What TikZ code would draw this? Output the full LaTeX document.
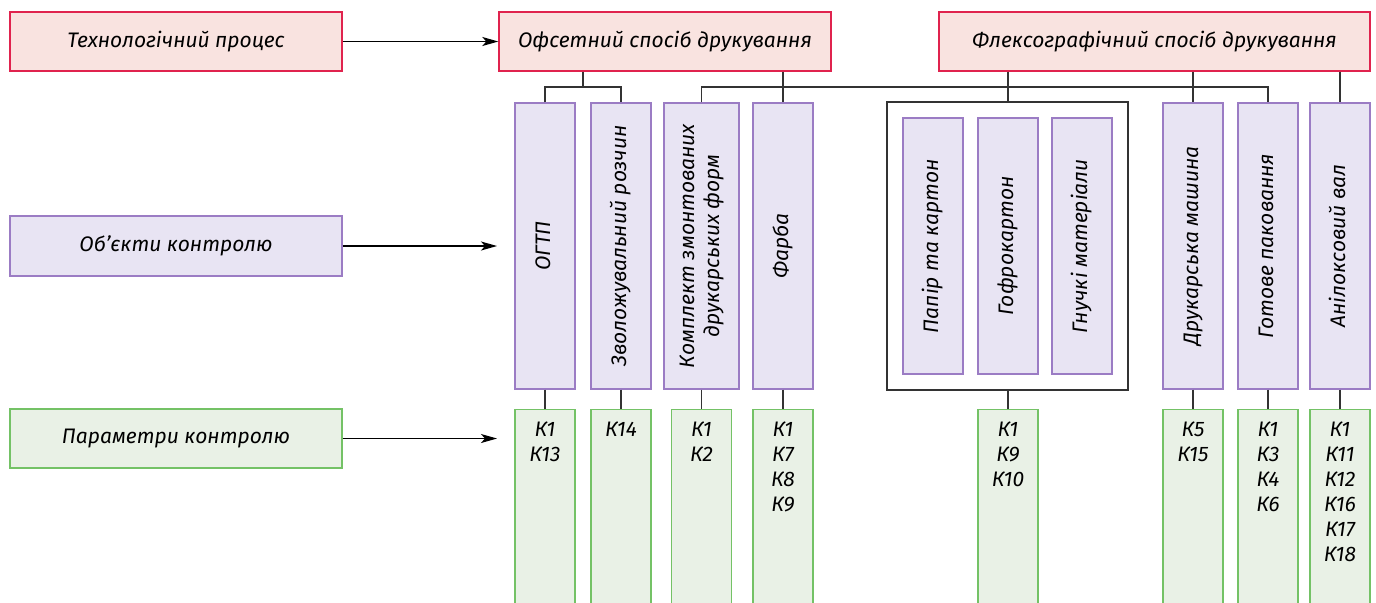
\documentclass[tikz,border=0pt]{standalone}
\usepackage{fontspec}
\setmainfont{Fira Sans}
\usepackage{tikz}
\usetikzlibrary{arrows.meta,fit}
\definecolor{redline}{HTML}{E0234E}
\definecolor{redfill}{HTML}{F9E3E0}
\definecolor{violetline}{HTML}{9B7CC4}
\definecolor{violetfill}{HTML}{E8E4F3}
\definecolor{greenline}{HTML}{74C266}
\definecolor{greenfill}{HTML}{E9F1E6}
\definecolor{wirecol}{HTML}{333333}
\tikzset{
    basebox/.style={rectangle,draw,line width=0.7pt,font=\fontsize{10.5}{12.5}\selectfont\itshape,inner sep=0pt},
    process/.style={basebox,draw=redline,fill=redfill,minimum height=29.5pt},
    item/.style={basebox,draw=violetline,fill=violetfill},
    column/.style={item,minimum width=30pt,minimum height=143pt},
    greenbox/.style={basebox,draw=greenline,fill=greenfill},
    param/.style={greenbox,anchor=north,minimum width=30pt,inner ysep=6pt},
    edge/.style={-{Stealth[length=8pt,width=4.5pt,inset=2pt]},line width=0.6pt},
    wire/.style={draw=wirecol,line width=0.7pt}
}
\newcommand{\vtext}[1]{\rotatebox{90}{\begin{tabular}{@{}c@{}}#1\end{tabular}}}
\newcommand{\klist}[1]{\parbox[t][100pt][t]{30pt}{\centering\baselineskip=12.5pt #1}}

\begin{document}
\begin{tikzpicture}[x=0.5pt,y=-0.5pt]
\useasboundingbox (0,0) rectangle (1376,602);
\clip (0,0) rectangle (1376,602);

% left column
\node[process,minimum width=166pt] (tech) at (176,41.5) {Технологічний процес};
\node[item,minimum width=166pt,minimum height=30pt] (objects) at (176,246) {Об’єкти контролю};
\node[greenbox,minimum width=166pt,minimum height=29.5pt] (params) at (176,438.5) {Параметри контролю};

% printing methods
\node[process,minimum width=166pt] (ofset) at (665,41.5) {Офсетний спосіб друкування};
\node[process,minimum width=215.5pt] (flexo) at (1154.5,41.5) {Флексографічний спосіб друкування};

% objects
\node[column] (ogtp) at (545,246) {\vtext{ОГТП}};
\node[column] (zvol) at (621,246) {\vtext{Зволожувальний розчин}};
\node[column,minimum width=37.5pt] (komplekt) at (701.5,246) {\vtext{Комплект змонтованих\\друкарських форм}};
\node[column] (farba) at (783,246) {\vtext{Фарба}};
\node[column,minimum height=128pt] (papir) at (933,246) {\vtext{Папір та картон}};
\node[column,minimum height=128pt] (gofro) at (1008,246) {\vtext{Гофрокартон}};
\node[column,minimum height=128pt] (hnuchki) at (1082,246) {\vtext{Гнучкі матеріали}};
\node[draw=wirecol,line width=1pt,inner sep=7.5pt,fit=(papir)(hnuchki)] (frame) {};
\node[column] (druk) at (1193,246) {\vtext{Друкарська машина}};
\node[column] (hotove) at (1268,246) {\vtext{Готове паковання}};
\node[column] (anilox) at (1340,246) {\vtext{Анілоксовий вал}};

% parameters
\node[param] (ogtpK) at (545,409) {\klist{К1\\К13}};
\node[param] (zvolK) at (621,409) {\klist{К14}};
\node[param] (komplK) at (701.5,409) {\klist{К1\\К2}};
\node[param] (farbaK) at (783,409) {\klist{К1\\К7\\К8\\К9}};
\node[param] (gofroK) at (1008,409) {\klist{К1\\К9\\К10}};
\node[param] (drukK) at (1193,409) {\klist{К5\\К15}};
\node[param] (hotoveK) at (1268,409) {\klist{К1\\К3\\К4\\К6}};
\node[param] (aniloxK) at (1340,409) {\klist{К1\\К11\\К12\\К16\\К17\\К18}};

\coordinate (ofbus) at (583,87);
\coordinate (bus) at (702,87);
\coordinate (objin) at (497,246);
\coordinate (parin) at (497,438.5);

\draw[edge] (tech) -- (ofset);
\draw[edge] (objects) -- (objin);
\draw[edge] (params) -- (parin);

\draw[wire] (ofset.south -| ofbus) -- (ofbus);
\draw[wire] (ogtp.north) |- (ofbus) -| (zvol.north);
\draw[wire] (ofset.south -| farba.north) -- (farba.north);
\draw[wire] (komplekt.north) |- (hotove.north |- bus) -- (hotove.north);
\draw[wire] (flexo.south -| gofro.north) -- (frame.north -| gofro.north);
\draw[wire] (flexo.south -| druk.north) -- (druk.north);
\draw[wire] (flexo.south -| anilox.north) -- (anilox.north);

\foreach \a/\b in {ogtp/ogtpK,zvol/zvolK,komplekt/komplK,farba/farbaK,druk/drukK,hotove/hotoveK,anilox/aniloxK}
    \draw[wire] (\a) -- (\b);
\draw[wire] (frame.south -| gofroK) -- (gofroK);
\end{tikzpicture}
\end{document}
